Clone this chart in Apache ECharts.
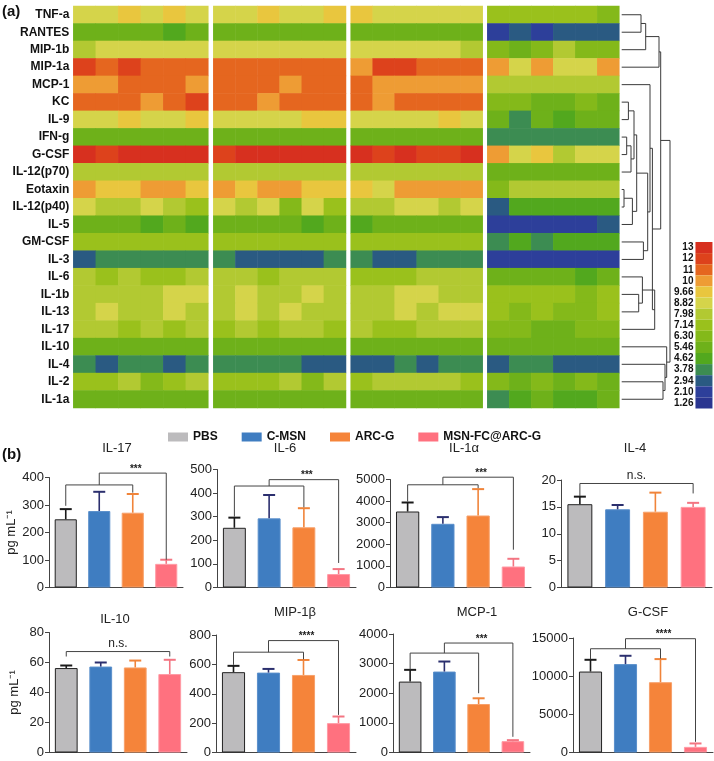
<!DOCTYPE html>
<html>
<head>
<meta charset="utf-8">
<script src="https://cdn.jsdelivr.net/npm/echarts@6/dist/echarts.min.js"></script>
<style>
  html, body { margin: 0; padding: 0; background: #fff; }
  #main { width: 714px; height: 761px; }
</style>
</head>
<body>
<div id="main"></div>
<script>
// ---- heatmap (a) ----
var cytokines = ['TNF-a', 'RANTES', 'MIP-1b', 'MIP-1a', 'MCP-1', 'KC', 'IL-9', 'IFN-g', 'G-CSF', 'IL-12(p70)',
  'Eotaxin', 'IL-12(p40)', 'IL-5', 'GM-CSF', 'IL-3', 'IL-6', 'IL-1b', 'IL-13', 'IL-17', 'IL-10', 'IL-4', 'IL-2', 'IL-1a'];
var levelLabels = ['1.26', '2.10', '2.94', '3.78', '4.62', '5.46', '6.30', '7.14', '7.98', '8.82', '9.66', '10', '11', '12', '13'];
var levelColors = ['#2A3590', '#2D3F9A', '#2A5A82', '#3C8C52', '#52A81E', '#6EB11A', '#84B91A', '#9AC11C',
  '#B2C932', '#D5D44A', '#E9C63E', '#EE9C34', '#E5661F', '#DD421C', '#D7301F'];

// level index (0 = 1.26 ... 14 = 13) for each cell, rows follow cytokines
var heatPBS = [
  [9,9,10,9,10,9], [5,5,5,5,4,5], [8,9,9,9,9,9], [13,12,13,12,12,12], [11,11,12,12,12,11], [12,12,12,11,12,13],
  [9,9,10,9,9,10], [5,5,5,5,5,5], [14,13,14,14,14,14], [8,8,8,8,8,8], [11,10,10,11,11,10], [9,8,8,9,8,7],
  [5,5,5,4,5,4], [7,7,7,7,7,7], [2,3,3,3,3,3], [8,7,8,7,7,8], [8,8,8,8,9,9], [8,9,8,8,9,8],
  [8,8,7,8,7,8], [5,5,5,5,5,5], [3,2,3,3,2,3], [7,7,8,6,7,8], [5,5,5,5,5,5]
];
var heatCMSN = [
  [9,9,10,9,9,10], [5,5,5,5,5,5], [9,9,9,9,9,9], [12,12,12,12,12,12], [12,12,12,11,12,12], [12,12,11,12,12,12],
  [9,9,9,9,10,10], [5,5,5,5,5,5], [13,14,14,14,14,14], [8,8,8,8,8,8], [11,10,11,11,10,10], [9,8,9,6,9,7],
  [5,5,5,5,4,5], [7,7,7,7,7,7], [3,2,2,2,2,3], [8,8,7,8,8,8], [8,9,8,8,9,8], [8,9,8,9,8,8],
  [7,8,7,8,8,7], [5,5,5,5,5,5], [3,3,3,3,2,2], [7,7,7,8,6,8], [5,5,5,5,5,5]
];
var heatARCG = [
  [10,9,9,9,9,9], [5,5,5,5,5,5], [9,9,9,9,9,8], [11,13,13,12,12,12], [12,11,11,11,11,11], [12,11,12,12,12,12],
  [9,9,9,9,10,9], [5,5,5,5,5,5], [14,13,14,13,13,14], [8,8,8,8,8,8], [10,9,11,11,11,11], [8,8,9,9,8,9],
  [4,5,5,5,5,5], [7,7,7,7,7,7], [3,2,2,3,3,3], [7,7,7,8,8,8], [8,8,9,9,8,8], [8,8,9,8,9,9],
  [8,7,7,8,8,8], [5,5,5,5,5,5], [2,2,3,2,3,3], [7,8,8,8,8,7], [5,5,5,5,5,5]
];
var heatMSNFC = [
  [7,7,7,7,7,6], [1,2,1,2,2,2], [6,5,6,8,6,6], [11,9,11,9,9,11], [8,8,8,8,8,8], [6,6,5,5,6,5],
  [5,3,5,4,5,5], [3,3,3,3,3,3], [11,9,10,8,9,9], [5,5,5,5,5,5], [6,8,8,8,8,8], [2,4,4,4,4,4],
  [1,1,1,1,1,2], [3,4,3,4,4,4], [1,1,1,1,1,1], [5,5,5,5,4,5], [7,7,7,7,6,7], [7,6,7,6,6,7],
  [6,6,5,5,6,6], [5,5,5,5,5,5], [2,3,3,2,2,2], [6,5,6,5,6,5], [3,4,5,4,4,5]
];

// dendrogram merges: [childA, childB, height]; leaves = row index, merge k = node 23 + k
var dendroMerges = [
  [0, 1, 19.3], [23, 2, 24], [24, 3, 37.3], [5, 6, 6.7], [7, 8, 5], [27, 9, 9.3], [26, 28, 12.3],
  [10, 11, 2.3], [30, 12, 10.7], [29, 31, 15], [13, 14, 21.7], [16, 17, 17], [15, 34, 20.7], [35, 18, 33],
  [32, 33, 26], [4, 37, 28.3], [38, 36, 30.7], [25, 39, 39], [21, 22, 41.3], [20, 41, 43.3], [19, 42, 45],
  [40, 43, 48.3]
];

// ---- bar panels (b) ----
var groups = ['PBS', 'C-MSN', 'ARC-G', 'MSN-FC@ARC-G'];
var panelNames = ['IL-17', 'IL-6', 'IL-1α', 'IL-4', 'IL-10', 'MIP-1β', 'MCP-1', 'G-CSF'];
var panelMax = [400, 500, 5000, 20, 80, 800, 4000, 15000];
var panelStep = [100, 100, 1000, 5, 20, 200, 1000, 5000];

var il17Mean = [248, 278, 272, 86],        il17Err = [37, 70, 68, 15];
var il6Mean = [253, 293, 255, 57],         il6Err = [43, 99, 81, 21];
var il1aMean = [3518, 2949, 3333, 972],    il1aErr = [417, 310, 1222, 357];
var il4Mean = [15.5, 14.55, 14.1, 15.0],   il4Err = [1.4, 0.8, 3.55, 0.75];
var il10Mean = [56.3, 57.3, 56.7, 52.3],   il10Err = [1.7, 2.7, 4.6, 9.5];
var mip1bMean = [547, 544, 528, 200],      mip1bErr = [43, 25, 102, 45];
var mcp1Mean = [2393, 2732, 1637, 383],    mcp1Err = [397, 339, 193, 34];
var gcsfMean = [10605, 11579, 9211, 737],  gcsfErr = [1540, 1092, 3026, 447];

// brackets: [fromGroup, toGroup, top, fromFoot, toFoot, label]
var il17Sig = [[0, 2, 373, 297, 345, ''], [1, 3, 416, 373, 101, '***']];
var il6Sig = [[0, 2, 430, 300, 340, ''], [1, 3, 457, 430, 104, '***']];
var il1aSig = [[0, 2, 4755, 3980, 4600, ''], [1, 3, 5107, 4755, 1750, '***']];
var il4Sig = [[0, 3, 19.35, 17.0, 17.5, 'n.s.']];
var il10Sig = [[0, 3, 67.3, 64, 64, 'n.s.']];
var mip1bSig = [[0, 2, 683, 597, 635, ''], [1, 3, 762, 683, 256, '****']];
var mcp1Sig = [[0, 2, 3356, 2800, 2000, ''], [1, 3, 3695, 3356, 530, '***']];
var gcsfSig = [[0, 2, 13592, 12200, 12300, ''], [1, 3, 14908, 13592, 1400, '****']];

var means = [il17Mean, il6Mean, il1aMean, il4Mean, il10Mean, mip1bMean, mcp1Mean, gcsfMean];
var errs = [il17Err, il6Err, il1aErr, il4Err, il10Err, mip1bErr, mcp1Err, gcsfErr];
var sigs = [il17Sig, il6Sig, il1aSig, il4Sig, il10Sig, mip1bSig, mcp1Sig, gcsfSig];

var barColors = ['#BCBBBD', '#3F7DC1', '#F5843A', '#FF717F'];
var barEdges = ['#222222', '#5A8FCB', '#F7A06A', '#FF9AA4'];
var errColors = ['#1A1A1A', '#2B2F6E', '#F0843A', '#F37582'];

// layout (px)
var font = 'Arial, "Liberation Sans", Helvetica, sans-serif';
var heatLeft = [73.3, 213.3, 350.7, 487.3], heatWidth = [135, 132.7, 132, 132];
var heatTop = 6, heatHeight = 402;
var panelBox = [
  [49, 477.5, 134, 110], [217, 469.5, 139, 118], [390, 479.5, 141, 108], [561, 480, 151, 107.5],
  [49, 632.5, 138, 120], [216, 635, 140, 117.5], [393, 634, 137, 118.5], [573, 638, 140, 114.5]
];
var titlePos = [[117, 450], [285, 450], [464, 450], [635, 450], [115, 621], [295, 614], [477, 614], [648, 614]];

var chart = echarts.init(document.getElementById('main'), null, {renderer: 'canvas'});

var grids = [], xAxes = [], yAxes = [], series = [], titles = [];
var heatSets = [heatPBS, heatCMSN, heatARCG, heatMSNFC];
var levelValues = levelLabels.map(function (s) { return parseFloat(s); });

heatSets.forEach(function (set, g) {
  grids.push({left: heatLeft[g], top: heatTop, width: heatWidth[g], height: heatHeight});
  xAxes.push({type: 'category', gridIndex: g, data: [0, 1, 2, 3, 4, 5], show: false});
  yAxes.push({
    type: 'category', gridIndex: g, data: cytokines, inverse: true,
    axisLine: {show: false}, axisTick: {show: false}, splitLine: {show: false},
    axisLabel: {show: g === 0, fontWeight: 'bold', fontSize: 12, color: '#111', margin: 4, fontFamily: font}
  });
  var data = [];
  set.forEach(function (row, r) {
    row.forEach(function (lv, c) { data.push([c, r, levelValues[lv]]); });
  });
  series.push({type: 'heatmap', xAxisIndex: g, yAxisIndex: g, data: data, itemStyle: {borderWidth: 0}});
});

// dendrogram grid (index 4)
grids.push({left: 621.7, top: heatTop, width: 49, height: heatHeight});
xAxes.push({type: 'value', gridIndex: 4, min: 0, max: 49, show: false});
yAxes.push({type: 'value', gridIndex: 4, min: -0.5, max: 22.5, inverse: true, show: false});
var nodeH = [], nodeY = [];
cytokines.forEach(function (c, i) { nodeH[i] = 0; nodeY[i] = i; });
dendroMerges.forEach(function (m, k) {
  nodeH[23 + k] = m[2];
  nodeY[23 + k] = (nodeY[m[0]] + nodeY[m[1]]) / 2;
});
series.push({
  type: 'custom', xAxisIndex: 4, yAxisIndex: 4, silent: true,
  data: dendroMerges.map(function (m) { return [m[2], (nodeY[m[0]] + nodeY[m[1]]) / 2]; }),
  renderItem: function (params, api) {
    var m = dendroMerges[params.dataIndex];
    var a = m[0], b = m[1], h = m[2];
    var pts = [
      api.coord([nodeH[a], nodeY[a]]), api.coord([h, nodeY[a]]),
      api.coord([h, nodeY[b]]), api.coord([nodeH[b], nodeY[b]])
    ];
    return {type: 'polyline', shape: {points: pts}, style: {stroke: '#3a3a3a', lineWidth: 1, fill: null}};
  }
});

// bar panels (grids 5..12)
panelNames.forEach(function (name, k) {
  var gi = 5 + k, box = panelBox[k];
  grids.push({left: box[0], top: box[1], width: box[2], height: box[3]});
  xAxes.push({
    type: 'category', gridIndex: gi, data: groups,
    axisLine: {lineStyle: {color: '#444', width: 1}}, axisTick: {show: false}, axisLabel: {show: false}
  });
  yAxes.push({
    type: 'value', gridIndex: gi, min: 0, max: panelMax[k], interval: panelStep[k],
    axisLine: {show: true, lineStyle: {color: '#444', width: 1}},
    axisTick: {show: true, length: 4, lineStyle: {color: '#444'}},
    splitLine: {show: false},
    axisLabel: {fontSize: 13, color: '#222', margin: 5, fontFamily: font,
      formatter: function (v) { return String(v); }},
    name: (k % 4 === 0) ? 'pg mL\u207B\u00B9' : '', nameLocation: 'middle', nameGap: 28, nameRotate: 90,
    nameTextStyle: {fontSize: 13, color: '#222', fontFamily: font}
  });
  titles.push({
    text: name, left: titlePos[k][0], top: titlePos[k][1] - 8, textAlign: 'center', padding: 0,
    textStyle: {fontSize: 13, fontWeight: 'normal', color: '#222', fontFamily: font}
  });
  groups.forEach(function (gname, g) {
    series.push({
      type: 'bar', name: gname, xAxisIndex: gi, yAxisIndex: gi, stack: 'p' + k, barWidth: '66%',
      data: means[k].map(function (v, i) { return i === g ? v : '-'; }),
      itemStyle: {color: barColors[g], borderColor: barEdges[g], borderWidth: 1}
    });
  });
  series.push({
    type: 'custom', xAxisIndex: gi, yAxisIndex: gi, silent: true, z: 5,
    data: means[k].map(function (v, i) { return [i, v, errs[k][i]]; }),
    renderItem: function (params, api) {
      var i = api.value(0), m = api.value(1), e = api.value(2);
      var p0 = api.coord([i, m]), p1 = api.coord([i, m + e]);
      var c = errColors[i];
      return {type: 'group', children: [
        {type: 'line', shape: {x1: p0[0], y1: p0[1], x2: p1[0], y2: p1[1]}, style: {stroke: c, lineWidth: 1.6}},
        {type: 'line', shape: {x1: p1[0] - 6, y1: p1[1], x2: p1[0] + 6, y2: p1[1]}, style: {stroke: c, lineWidth: 2}}
      ]};
    }
  });
  var sig = sigs[k];
  series.push({
    type: 'custom', xAxisIndex: gi, yAxisIndex: gi, silent: true, z: 6,
    data: sig.map(function (b) { return [b[0], b[2]]; }),
    renderItem: function (params, api) {
      var b = sig[params.dataIndex];
      var a0 = api.coord([b[0], b[3]]), a1 = api.coord([b[0], b[2]]);
      var c1 = api.coord([b[1], b[2]]), c0 = api.coord([b[1], b[4]]);
      var stars = b[5].charAt(0) === '*';
      return {type: 'group', children: [
        {type: 'polyline', shape: {points: [a0, a1, c1, c0]}, style: {stroke: '#444', lineWidth: 1, fill: null}},
        {type: 'text', x: (a1[0] + c1[0]) / 2 + (stars ? 3 : 0), y: stars ? a1[1] + 1 : a1[1] - 2, style: {
          text: b[5], textAlign: 'center', textVerticalAlign: 'bottom',
          font: (stars ? 'bold 10px ' : '12px ') + font, fill: '#222'
        }}
      ]};
    }
  });
});

titles.push({text: '(a)', left: 2, top: 4, padding: 0, textStyle: {fontSize: 15, fontWeight: 'bold', color: '#111', fontFamily: font}});
titles.push({text: '(b)', left: 2, top: 447, padding: 0, textStyle: {fontSize: 15, fontWeight: 'bold', color: '#111', fontFamily: font}});

var option = {
  animation: false,
  backgroundColor: '#fff',
  textStyle: {fontFamily: font},
  title: titles,
  grid: grids,
  xAxis: xAxes,
  yAxis: yAxes,
  legend: {
    data: groups, left: 168, top: 431, itemWidth: 20, itemHeight: 9, itemGap: 24, icon: 'rect',
    selectedMode: false, padding: 0, itemStyle: {borderWidth: 0},
    textStyle: {fontWeight: 'bold', fontSize: 12, color: '#111', fontFamily: font}
  },
  visualMap: {
    type: 'piecewise', seriesIndex: [0, 1, 2, 3], dimension: 2, orient: 'vertical',
    left: 674, top: 242, padding: 0, itemWidth: 17, itemHeight: 11.1, itemGap: 0, itemSymbol: 'rect',
    textGap: 2, selectedMode: false,
    textStyle: {fontSize: 10, fontWeight: 'bold', color: '#111', fontFamily: font},
    pieces: levelLabels.map(function (s, i) {
      return {value: levelValues[i], label: s, color: levelColors[i]};
    }).reverse()
  },
  series: series
};
chart.setOption(option);
</script>
</body>
</html>
